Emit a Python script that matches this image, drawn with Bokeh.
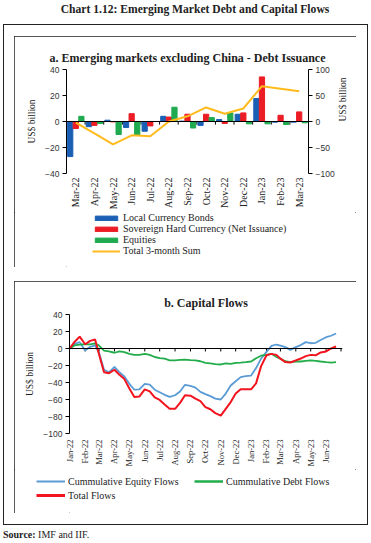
from math import pi
from datetime import datetime
import pandas as pd
from bokeh.plotting import figure
from bokeh.models import (Range1d, LinearAxis, DatetimeAxis, FixedTicker,
                          DatetimeTickFormatter, Legend, LegendItem, Div, ColumnDataSource,
                          Span, Spacer)
from bokeh.transform import dodge
from bokeh.layouts import column, row
from bokeh.embed import file_html
from bokeh.resources import INLINE

SERIF = "Liberation Serif"
SANS = "Liberation Sans"
INK = "#222222"

# ---------------- Panel a data ----------------
issue_months = ["Mar-22", "Apr-22", "May-22", "Jun-22", "Jul-22", "Aug-22", "Sep-22",
                "Oct-22", "Nov-22", "Dec-22", "Jan-23", "Feb-23", "Mar-23"]
local_currency_bonds = [-27, -4, 1, -4.6, -7.5, 4, 0.3, -3, 1.5, 5.6, 17.7, -0.5, -0.5]
sovereign_hard_currency = [-5.4, -3, -0.3, 6, -3.4, 3.4, 5.6, 5.6, -1.5, 6.6, 34.3, 4.8, 7.4]
equities = [4, -1.5, -10, -10.5, 0, 11, -5, 3, 6.6, -1.8, -1.8, -2.3, -1]
total_3m_sum = [-2, -23, -44, -26.5, -28.5, 0, 10, 27, 15, 25, 68, 63, 58]
left_ticks = [-40, -20, 0, 20, 40]
right_ticks = [-100, -50, 0, 50, 100]

# ---------------- Panel b data ----------------
flow_months = pd.date_range("2022-01-01", "2023-06-01", freq="MS")
flow_day_offsets = [0, 10, 20]
equity_flows = [0, 5.5, 7.5, -2.4, 2, 3.8, -5, -25, -28, -21.5, -28, -33, -41.6, -48.5, -48,
                -41.6, -42.5, -48.5, -51.4, -54.5, -57, -55, -50.5, -42.7, -44, -46, -51,
                -53.7, -56, -59, -60, -53, -43.5, -38.5, -33.7, -32.5, -31.8, -23, -12, -4,
                3, 4.7, 3.5, 1.6, -1.6, 1.6, 4, 7.5, 6.2, 6.7, 10, 13.3, 15, 17.6]
debt_flows = [0, 3.8, 4.5, 5, 4.8, 6, 3.5, -2.4, -3.5, -5, -3.5, -4.3, -6.3, -7.5, -7.5,
              -6.3, -7.5, -10, -11.4, -12, -14, -14, -13.3, -13, -13.7, -14, -15, -17,
              -17.6, -18.4, -18.8, -17.6, -18, -16.9, -16.5, -16, -15.3, -11.5, -8.5, -7.5,
              -6.3, -10, -12, -15, -16, -15.3, -15.3, -14.5, -14, -14.5, -15.3, -16, -16.5, -16]
total_flows = [0, 8, 14, 5, 9, 10.5, -7, -28, -29, -25, -31, -36, -47, -57, -56.5, -48,
               -50.5, -57.5, -60.5, -66, -71, -71, -64, -55, -55.5, -59, -62, -69, -71.5,
               -76, -79, -71, -63, -53, -48, -48, -48, -41, -21, -8, -6.3, -7.5, -12, -16,
               -16.5, -14, -11.8, -9, -7.5, -8, -4.6, -3.5, 0, 2.4]
flow_ticks_b = [-100, -80, -60, -40, -20, 0, 20, 40]

BLUE = "#1A5FB4"
RED = "#EC1C24"
GREEN = "#1FAA4F"
ORANGE = "#FFBB1C"
LBLUE = "#5B9BD5"
LGREEN = "#22AD4A"
LRED = "#F2141E"
BOX = {"outline": "1.5px solid #222", "outline-offset": "-1.5px"}


def style_y(ax):
    ax.major_label_text_font = SANS
    ax.major_label_text_font_size = "8.5px"
    ax.major_label_text_color = "#333333"
    ax.axis_line_color = "black"
    ax.major_tick_line_color = "black"
    ax.major_tick_in = 0
    ax.major_tick_out = 4
    ax.minor_tick_line_color = None
    ax.axis_label_text_font = SERIF
    ax.axis_label_text_font_size = "9.5px"
    ax.axis_label_text_font_style = "normal"
    ax.axis_label_text_color = INK
    ax.axis_label_standoff = 5
    ax.major_label_standoff = 3


def style_x(ax, size, standoff):
    ax.major_label_orientation = pi / 2
    ax.axis_line_color = None
    ax.major_tick_line_color = None
    ax.minor_tick_line_color = None
    ax.major_tick_in = 0
    ax.major_tick_out = 0
    ax.major_label_text_font = SERIF
    ax.major_label_text_font_size = size
    ax.major_label_text_color = INK
    ax.major_label_standoff = standoff


def style_title(p, text, offset=0):
    p.title.text = text
    p.title.align = "center"
    p.title.text_font = SERIF
    p.title.text_font_size = "12px"
    p.title.text_font_style = "bold"
    p.title.text_color = INK
    p.title.offset = offset


def legend_figure(w, h):
    # a strip that only carries a legend; its view range keeps the keyed series out of sight
    f = figure(output_backend="svg", toolbar_location=None,
               frame_width=w, frame_height=h,
               min_border_left=0, min_border_right=0, min_border_top=0, min_border_bottom=0,
               x_range=Range1d(-1000, -999), y_range=Range1d(-1000, -999),
               x_axis_type=None, y_axis_type=None, outline_line_color=None)
    f.grid.visible = False
    return f


def legend(items, loc, **kw):
    return Legend(items=items, location=loc, padding=0, margin=0,
                  border_line_color=None, background_fill_alpha=0,
                  label_text_font=SERIF, label_text_font_size="10px",
                  label_text_color=INK, label_standoff=3, **kw)


# ---------------- Panel a ----------------
pos = list(range(len(issue_months)))
bounds = [p + 0.5 for p in pos[:-1]]
src_a = ColumnDataSource(dict(pos=pos, lcb=local_currency_bonds, shc=sovereign_hard_currency,
                              eq=equities, tot=total_3m_sum))

pa = figure(output_backend="svg", toolbar_location=None,
            frame_width=242, frame_height=104,
            min_border_left=52, min_border_right=48, min_border_top=33, min_border_bottom=37,
            x_range=Range1d(-0.5, len(pos) - 0.5), y_range=Range1d(-40, 40),
            x_axis_type=None, y_axis_type=None, outline_line_color=None)
pa.extra_y_ranges = {"right": Range1d(-100, 100)}
style_title(pa, "a. Emerging markets excluding China - Debt Issuance")

ly = LinearAxis(ticker=FixedTicker(ticks=left_ticks), axis_label="US$ billion")
style_y(ly)
pa.add_layout(ly, "left")
ry = LinearAxis(y_range_name="right", ticker=FixedTicker(ticks=right_ticks), axis_label="US$ billion")
style_y(ry)
ry.axis_label_orientation = pi / 2
pa.add_layout(ry, "right")

xa = LinearAxis(ticker=FixedTicker(ticks=pos),
                major_label_overrides={i: m for i, m in enumerate(issue_months)})
style_x(xa, "10px", 4)
pa.add_layout(xa, "below")

pa.add_layout(Span(location=0, dimension="width", line_color="black", line_width=1))
pa.segment(x0=bounds, y0=[0] * len(bounds), x1=bounds, y1=[-2.4] * len(bounds),
           line_color="black", line_width=1)

bar_specs = [("lcb", -0.3, BLUE), ("shc", 0.0, RED), ("eq", 0.3, GREEN)]
for col, off, colr in bar_specs:
    pa.vbar(x=dodge("pos", off), top=col, width=0.28, source=src_a, color=colr)
pa.line(x="pos", y="tot", source=src_a, y_range_name="right", color=ORANGE, line_width=2)

la = legend_figure(342, 55)
keys_a = [la.vbar(x=dodge("pos", off), top=col, width=0.28, source=src_a, color=colr)
          for col, off, colr in bar_specs]
keys_a.append(la.line(x="pos", y="tot", source=src_a, color=ORANGE, line_width=2))
labels_a = ["Local Currency Bonds", "Sovereign Hard Currency (Net Issuance)", "Equities",
            "Total 3-month Sum"]
la.add_layout(legend([LegendItem(label=t, renderers=[r]) for t, r in zip(labels_a, keys_a)],
                     (78, 11), orientation="vertical",
                     glyph_width=28, glyph_height=6, label_height=11, spacing=0))

# ---------------- Panel b ----------------
flow_dates = [m + pd.Timedelta(days=d) for m in flow_months for d in flow_day_offsets]
month_starts = list(pd.date_range("2022-02-01", "2023-07-01", freq="MS"))
src_b = ColumnDataSource(dict(date=flow_dates, eqf=equity_flows, dbf=debt_flows, tot=total_flows))

pb = figure(output_backend="svg", toolbar_location=None,
            frame_width=273, frame_height=119,
            min_border_left=55, min_border_right=14, min_border_top=33, min_border_bottom=34,
            x_range=Range1d(datetime(2021, 12, 31, 12), datetime(2023, 7, 4)),
            y_range=Range1d(-100, 40),
            x_axis_type=None, y_axis_type=None, outline_line_color=None)
style_title(pb, "b. Capital Flows", offset=-20)

lyb = LinearAxis(ticker=FixedTicker(ticks=flow_ticks_b), axis_label="US$ billion")
style_y(lyb)
pb.add_layout(lyb, "left")

label_ticks = [m.timestamp() * 1000 for m in flow_months]
xb = DatetimeAxis(ticker=FixedTicker(ticks=label_ticks),
                  formatter=DatetimeTickFormatter(months="%b-%y", days="%b-%y",
                                                  hours="%b-%y", years="%b-%y"))
style_x(xb, "8.5px", 6)
pb.add_layout(xb, "below")

pb.add_layout(Span(location=0, dimension="width", line_color="black", line_width=1))
pb.segment(x0=month_starts, y0=[0] * len(month_starts), x1=month_starts,
           y1=[-3.5] * len(month_starts), line_color="black", line_width=1)

line_specs = [("eqf", LBLUE, 1.8, 2), ("dbf", LGREEN, 1.8, 2.5), ("tot", LRED, 2, 3)]
for col, colr, lw, _ in line_specs:
    pb.line(x="date", y=col, source=src_b, color=colr, line_width=lw)

lb = legend_figure(342, 44)
keys_b = [lb.line(x="date", y=col, source=src_b, color=colr, line_width=klw)
          for col, colr, _, klw in line_specs]
labels_b = ["Cummulative Equity Flows", "Cummulative Debt Flows", "Total Flows"]
lb.add_layout(legend([LegendItem(label=t, renderers=[r]) for t, r in zip(labels_b, keys_b)],
                     (22, 12), orientation="horizontal", ncols=2,
                     glyph_width=29, glyph_height=6, label_height=12, label_width=124,
                     spacing=2))

# ---------------- page layout ----------------
panel_a = column(pa, la, spacing=0, styles=BOX)
panel_b = column(pb, lb, spacing=0, styles=BOX)

title_div = Div(text='<div style="width:352px;margin-left:19px;text-align:center;">'
                     'Chart 1.12: Emerging Market Debt and Capital Flows</div>',
                width=371, height=24, margin=(0, 0, 0, 0),
                styles={"font-family": SERIF, "font-weight": "bold", "font-size": "11.6px",
                        "color": INK, "line-height": "20px"})

outer = column(Spacer(width=365, height=12),
               row(Spacer(width=11, height=10), panel_a, Spacer(width=12, height=10), spacing=0),
               Spacer(width=365, height=14),
               row(Spacer(width=11, height=10), panel_b, Spacer(width=12, height=10), spacing=0),
               Spacer(width=365, height=12),
               spacing=0, styles=BOX)
source_div = Div(text="<b>Source:</b> IMF and IIF.", width=360, height=14, margin=(0, 0, 0, 0),
                 styles={"font-family": SERIF, "font-size": "10px", "color": INK,
                         "line-height": "14px"})

layout = column(title_div,
                row(Spacer(width=3, height=10), outer, spacing=0),
                Spacer(width=10, height=3),
                row(Spacer(width=3, height=10), source_div, spacing=0),
                spacing=0)

with open("out.html", "w") as f:
    f.write(file_html(layout, INLINE))
